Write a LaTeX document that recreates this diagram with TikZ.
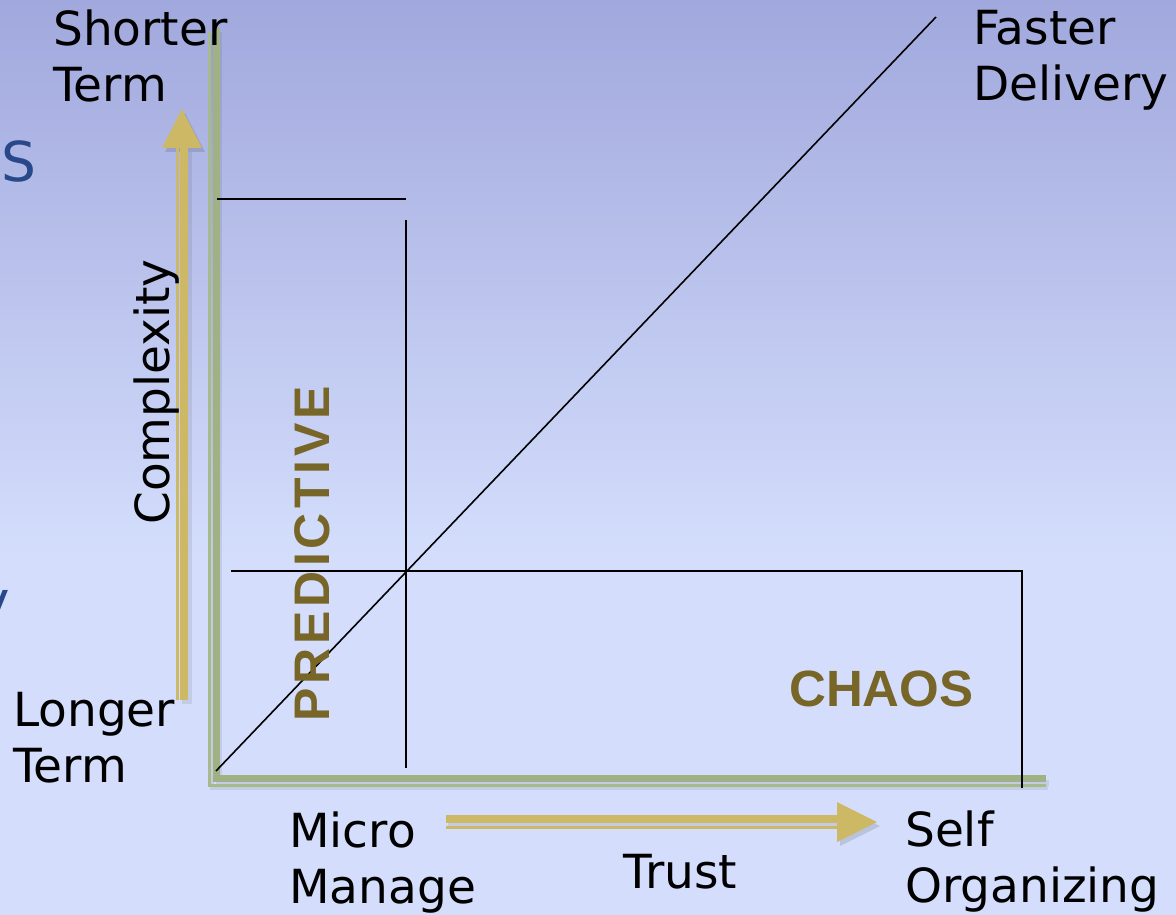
\documentclass[tikz,border=0pt]{standalone}
\usepackage{fontspec}
\setmainfont{DejaVu Sans}
\newfontfamily\arialfam{Liberation Sans}
\definecolor{bgtop}{RGB}{161,168,221}
\definecolor{bgbot}{RGB}{212,222,252}
\definecolor{axisgreen}{RGB}{160,178,131}
\definecolor{axisgreenlt}{RGB}{166,186,138}
\definecolor{arrowgold}{RGB}{205,184,101}
\definecolor{quadolive}{RGB}{119,102,40}
\definecolor{slideblue}{RGB}{40,72,138}
\newcommand{\twolines}[2]{\begin{tabular}[t]{@{}l@{}}#1\\#2\end{tabular}}
\begin{document}
\begin{tikzpicture}[x=1pt,y=-1pt,
  lbl/.style={inner sep=0pt, anchor=base west, font=\fontsize{47}{56}\selectfont, text=black},
  quad/.style={inner sep=0pt, anchor=base west, font=\arialfam\bfseries\fontsize{51}{56}\selectfont, text=quadolive},
  grid/.style={draw=black, line width=1.8pt},
  axthick/.style={draw=axisgreen, line width=7pt},
  axthin/.style={draw=axisgreenlt, line width=3pt},
  goldthick/.style={draw=arrowgold, line width=8pt},
  goldthin/.style={draw=arrowgold, line width=3pt},
  shd/.style={draw=black!70, opacity=0.12, line width=#1},
  shd/.default=10pt
]
\useasboundingbox (0,0) rectangle (1176,915);
\clip (0,0) rectangle (1176,915);
% background
\shade[top color=bgtop, bottom color=bgbot] (0,0) rectangle (1176,560);
\fill[bgbot] (0,559) rectangle (1176,915);

% partial slide text at left edge
\node[inner sep=0pt, anchor=base east, text=slideblue, font=\fontsize{55}{60}\selectfont] (sfrag) at (37,182) {S};
\node[inner sep=0pt, anchor=base west, text=slideblue, font=\fontsize{55}{60}\selectfont] (yfrag) at (-23,620) {y};

% coordinates
\coordinate (vtopT) at (216,28);
\coordinate (corT) at (216,778.5);
\coordinate (hendT) at (1046,778.5);
\coordinate (vtopt) at (209.5,32);
\coordinate (cort) at (209.5,785);
\coordinate (hendt) at (1046,785);

% axis shadow
\draw[shd=6pt] ([shift={(3,4)}]vtopT) -- ([shift={(3,4)}]corT) -- ([shift={(3,4)}]hendT);
\draw[shd=4pt] ([shift={(2,3)}]vtopt) -- ([shift={(2,3)}]cort) -- ([shift={(2,3)}]hendt);
% axes (double green line)
\draw[axthin] (vtopt) -- (cort) -- (hendt);
\draw[axthick] (vtopT) -- (corT) -- (hendT);

% vertical gold arrow
\coordinate (vaBot) at (184,700);
\coordinate (vaTop) at (184,148);
\coordinate (vaBot2) at (177,700);
\coordinate (vaTop2) at (177,148);
\coordinate (vaTip) at (182,109);
\draw[shd=10pt] ([shift={(3,4)}]vaBot) -- ([shift={(3,4)}]vaTop);
\fill[black, opacity=0.12] (165,152) -- (185,113) -- (205,152) -- cycle;
\draw[goldthin] (vaBot2) -- (vaTop2);
\draw[goldthick] (vaBot) -- (vaTop);
\fill[arrowgold] (162,148) -- (vaTip) -- (202,148) -- cycle;

% horizontal gold arrow
\coordinate (haL) at (446,819);
\coordinate (haR) at (837,819);
\coordinate (haL2) at (446,827.5);
\coordinate (haR2) at (837,827.5);
\coordinate (haTip) at (877,822);
\draw[shd=10pt] ([shift={(2,5)}]haL) -- ([shift={(2,5)}]haR);
\fill[black, opacity=0.12] (840,806) -- (880,826) -- (840,846) -- cycle;
\draw[goldthin] (haL2) -- (haR2);
\draw[goldthick] (haL) -- (haR);
\fill[arrowgold] (837,802) -- (haTip) -- (837,842) -- cycle;

% grid lines
\coordinate (tl) at (217,199);
\coordinate (tr) at (406,199);
\coordinate (mvTop) at (406,220);
\coordinate (mvBot) at (406,768);
\coordinate (mhL) at (231,571);
\coordinate (mhR) at (1022,571);
\coordinate (rvBot) at (1022,788);
\coordinate (dgA) at (216,771);
\coordinate (dgB) at (936,17);
\draw[grid] (tl) -- (tr);
\draw[grid] (mvTop) -- (mvBot);
\draw[grid] (mhL) -- (mhR) -- (rvBot);
\draw[grid, line width=1.6pt] (dgA) -- (dgB);

% labels
\node[lbl] (shorter) at (53,46) {\twolines{Shorter}{Term}};
\node[lbl] (faster) at (973,45) {\twolines{Faster}{Delivery}};
\node[lbl] (longer) at (13,726) {\twolines{Longer}{Term}};
\node[lbl] (micro) at (289,847) {\twolines{Micro}{Manage}};
\node[lbl] (self) at (905,846) {\twolines{Self}{Organizing}};
\node[lbl] (trust) at (623,888) {Trust};
\node[lbl, rotate=90] (complexity) at (169,525) {Complexity};

\node[quad, rotate=90, font=\arialfam\bfseries\fontsize{50}{56}\selectfont\addfontfeatures{LetterSpace=8}] (predictive) at (329,722) {PREDICTIVE};
\node[quad] (chaos) at (789,706) {CHAOS};
\end{tikzpicture}
\end{document}
